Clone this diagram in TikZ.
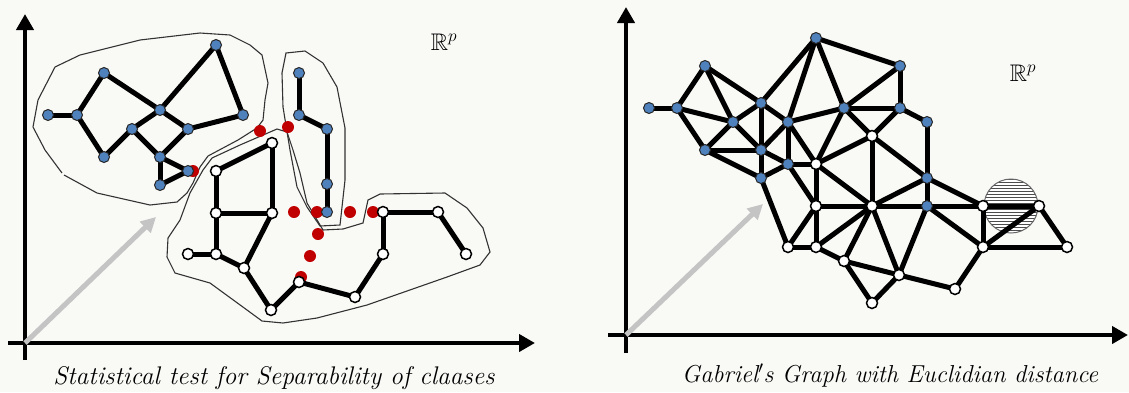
\documentclass[tikz,border=0pt]{standalone}
\usepackage{amssymb}
\usepackage{fontspec}
\usetikzlibrary{arrows.meta}
\pgfdeclarelayer{bg}
\pgfdeclarelayer{edges}
\pgfsetlayers{bg,edges,main}
\definecolor{paper}{HTML}{F9F9F6}
\definecolor{nodeblue}{HTML}{4F81BD}
\definecolor{dotred}{HTML}{C00000}
\definecolor{arrowgray}{HTML}{C4C4C4}
\tikzset{
  bn/.style={circle,draw=black!85,line width=1pt,fill=nodeblue,inner sep=0pt,minimum size=11pt},
  wn/.style={circle,draw=black,line width=1.5pt,fill=white,inner sep=0pt,minimum size=11pt},
  edge/.style={line width=5pt,black},
  contour/.style={line width=1.1pt,black!80},
  reddot/.style={circle,fill=dotred,inner sep=0pt,minimum size=12pt},
  axis/.style={line width=4.5pt,black,-{Triangle[length=16pt,width=17pt]}},
  garrow/.style={line width=5pt,arrowgray,-{Triangle[length=15pt,width=15pt]}},
  caption/.style={font=\fontsize{25.5}{30}\selectfont\itshape},
  rcaption/.style={font=\fontsize{24.5}{30}\selectfont\itshape},
  space/.style={font=\fontsize{24}{28}\selectfont}
}
\begin{document}
\begin{tikzpicture}[x=1pt,y=-1pt]
\begin{pgfonlayer}{bg}
\fill[paper] (0,0) rectangle (1129,392);
\end{pgfonlayer}
\useasboundingbox (0,0) rectangle (1129,392);

% ---------------- left panel ----------------
\coordinate (laxo) at (25,343);
\coordinate (laxb) at (25,360);
\coordinate (laxt) at (25,14);
\coordinate (laxl) at (8,343);
\coordinate (laxr) at (535,343);
\draw[line width=4.5pt] (laxb) -- (laxo);
\draw[axis] (laxo) -- (laxt);
\draw[line width=4.5pt] (laxl) -- (laxo);
\draw[axis] (laxo) -- (laxr);
\coordinate (lgt) at (156,217);
\draw[garrow] (laxo) -- (lgt);

\node[space] (lrp) at (444,42) {$\mathbb{R}^p$};

\begin{pgfonlayer}{bg}
\draw[contour] (62,173) -- (45,150) -- (33,127) -- (38,100) -- (55,67) -- (80,55) -- (140,40) -- (200,33) -- (230,35) -- (250,45) -- (262,55) -- (268,83) -- (265,100) -- (263,120) -- (257,128) -- (238,140) -- (208,156) -- (200,167) -- (193,183) -- (187,193) -- (177,202) -- (150,205) -- (97,193) -- (64,175);
\draw[contour] (286,53) -- (305,51) -- (323,63) -- (337,87) -- (345,128) -- (345,180) -- (340,225) -- (320,226) -- (307,207) -- (297,187) -- (290,150) -- (283,107) -- (282,73) -- cycle;
\draw[contour] (277,129) -- (287,132) -- (293,150) -- (300,173) -- (307,203) -- (323,230) -- (343,229) -- (363,223) -- (368,200) -- (380,194) -- (445,193) -- (467,208) -- (483,228) -- (490,252) -- (480,265) -- (447,277) -- (367,305) -- (317,318) -- (283,323) -- (262,321) -- (247,310) -- (210,283) -- (175,273) -- (167,257) -- (168,238) -- (180,220) -- (190,193) -- (203,170) -- (212,158) -- (240,145) -- cycle;
\node[reddot] (r01) at (260,131) {};
\node[reddot] (r02) at (288,127) {};
\node[reddot] (r03) at (193,171) {};
\node[reddot] (r04) at (294,212) {};
\node[reddot] (r05) at (317,212) {};
\node[reddot] (r06) at (350,212) {};
\node[reddot] (r07) at (373,212) {};
\node[reddot] (r08) at (318,234) {};
\node[reddot] (r09) at (310,256) {};
\node[reddot] (r10) at (301,277) {};
\end{pgfonlayer}

\node[bn] (a1) at (48,115) {};
\node[bn] (a2) at (77,115) {};
\node[bn] (a3) at (104,73) {};
\node[bn] (a4) at (104,157) {};
\node[bn] (a5) at (132,129) {};
\node[bn] (a6) at (160,110) {};
\node[bn] (a7) at (188,129) {};
\node[bn] (a8) at (160,157) {};
\node[bn] (a9) at (188,171) {};
\node[bn] (a10) at (160,185) {};
\node[bn] (a11) at (216,45) {};
\node[bn] (a12) at (243,115) {};

\node[bn] (b1) at (299,73) {};
\node[bn] (b2) at (299,115) {};
\node[bn] (b3) at (327,129) {};
\node[bn] (b4) at (327,184) {};
\node[bn] (b5) at (327,212) {};

\node[wn] (w1) at (216,171) {};
\node[wn] (w2) at (272,143) {};
\node[wn] (w3) at (216,213) {};
\node[wn] (w4) at (272,213) {};
\node[wn] (w5) at (188,254) {};
\node[wn] (w6) at (216,254) {};
\node[wn] (w7) at (244,268) {};
\node[wn] (w8) at (271,310) {};
\node[wn] (w9) at (299,282) {};
\node[wn] (w10) at (355,297) {};
\node[wn] (w11) at (383,254) {};
\node[wn] (w12) at (383,212) {};
\node[wn] (w13) at (438,212) {};
\node[wn] (w14) at (466,254) {};

\begin{pgfonlayer}{edges}
\foreach \p/\q in {a1/a2,a2/a3,a2/a4,a3/a6,a4/a5,a5/a6,a5/a8,a6/a7,a6/a11,a11/a12,a12/a7,a7/a8,a8/a9,a8/a10,a10/a9,
  b1/b2,b2/b3,b3/b4,b4/b5,
  w1/w2,w2/w4,w1/w3,w3/w4,w3/w6,w5/w6,w6/w7,w4/w7,w7/w8,w8/w9,w9/w10,w10/w11,w11/w12,w12/w13,w13/w14}
  \draw[edge] (\p.center) -- (\q.center);
\end{pgfonlayer}

\node[caption] (lcap) at (274,378) {Statistical test for Separability of claases};

% ---------------- right panel ----------------
\coordinate (raxo) at (626,335);
\coordinate (raxb) at (626,353);
\coordinate (raxt) at (626,7);
\coordinate (raxl) at (608,335);
\coordinate (raxr) at (1128,335);
\draw[line width=4.5pt] (raxb) -- (raxo);
\draw[axis] (raxo) -- (raxt);
\draw[line width=4.5pt] (raxl) -- (raxo);
\draw[axis] (raxo) -- (raxr);
\coordinate (rgt) at (763,204);
\draw[garrow] (raxo) -- (rgt);

\node[space] (rrp) at (1023,73) {$\mathbb{R}^p$};

\begin{pgfonlayer}{bg}
\begin{scope}
\clip (1011,206) circle (27pt);
\fill[white] (1011,206) circle (27pt);
\foreach \k in {-27,-24,...,27}
  \draw[black!70,line width=0.8pt] (980,206+\k) -- (1042,206+\k);
\end{scope}
\node[circle,draw=black!60,line width=1pt,minimum size=54pt,inner sep=0pt] (hc) at (1011,206) {};
\end{pgfonlayer}

\node[bn] (q1) at (649,108) {};
\node[bn] (q2) at (677,108) {};
\node[bn] (q3) at (705,66) {};
\node[bn] (q4) at (733,122) {};
\node[bn] (q5) at (705,150) {};
\node[bn] (q6) at (761,103) {};
\node[bn] (q7) at (761,150) {};
\node[bn] (q8) at (761,178) {};
\node[bn] (q9) at (788,122) {};
\node[bn] (q10) at (788,164) {};
\node[bn] (q11) at (816,38) {};
\node[bn] (q12) at (844,108) {};
\node[wn] (q13) at (816,164) {};
\node[wn] (q14) at (872,136) {};
\node[wn] (q15) at (816,206) {};
\node[wn] (q16) at (872,206) {};
\node[bn] (q17) at (900,66) {};
\node[bn] (q18) at (900,108) {};
\node[bn] (q19) at (927,122) {};
\node[bn] (q20) at (927,178) {};
\node[bn] (q21) at (927,206) {};
\node[wn] (q22) at (983,206) {};
\node[wn] (q23) at (1039,206) {};
\node[wn] (q24) at (983,247) {};
\node[wn] (q25) at (1067,247) {};
\node[wn] (q26) at (844,261) {};
\node[wn] (q27) at (899,275) {};
\node[wn] (q28) at (955,289) {};
\node[wn] (q29) at (872,303) {};
\node[wn] (q30) at (788,247) {};
\node[wn] (q31) at (816,247) {};

\begin{pgfonlayer}{edges}
\foreach \p/\q in {q1/q2,q2/q3,q2/q4,q2/q5,q3/q4,q3/q6,q4/q6,q4/q5,q4/q7,q5/q7,q5/q8,q6/q7,q6/q9,q6/q11,q7/q8,q7/q9,q7/q10,q8/q10,
  q9/q11,q9/q12,q9/q10,q9/q13,q10/q13,q11/q12,q11/q17,q12/q13,q12/q17,q12/q18,q12/q14,q17/q18,q18/q19,q18/q14,q19/q20,
  q13/q14,q13/q15,q13/q16,q14/q20,q14/q16,q20/q16,q20/q21,q15/q16,q16/q21,q21/q22,q8/q30,q10/q15,q15/q30,q15/q31,q30/q31,
  q16/q31,q16/q26,q16/q27,q31/q26,q26/q27,q26/q29,q27/q29,q27/q28,q21/q27,q21/q24,q22/q24,q24/q25,q23/q25,q22/q23,q24/q23,q20/q22,q28/q24}
  \draw[edge] (\p.center) -- (\q.center);
\end{pgfonlayer}

\node[rcaption] (rcap) at (890,376) {Gabriel$'$s Graph with Euclidian distance};
\end{tikzpicture}
\end{document}
